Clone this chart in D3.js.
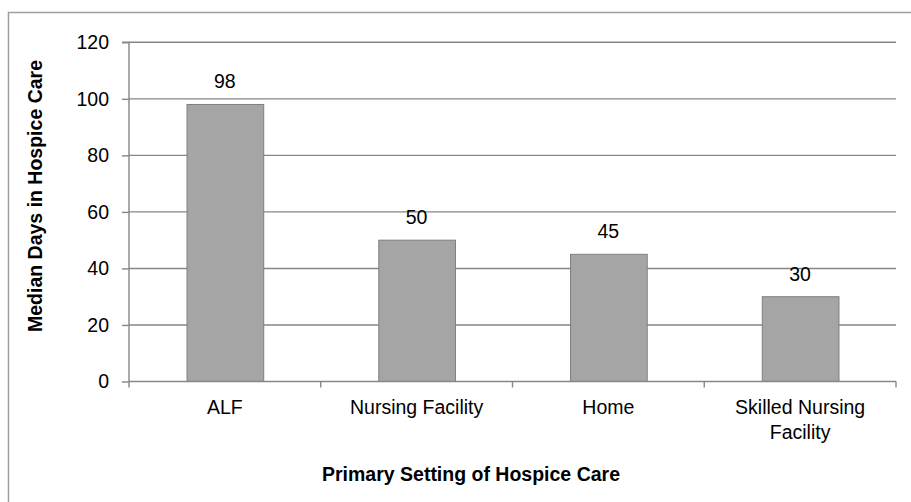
<!DOCTYPE html>
<html>
<head>
<meta charset="utf-8">
<script src="https://cdn.jsdelivr.net/npm/d3@7"></script>
<style>
html,body{margin:0;padding:0;background:#fff;}
svg{display:block;font-family:"Liberation Sans",Arial,sans-serif;}
</style>
</head>
<body>
<svg id="chart" width="911" height="502"></svg>
<script>
const categories = [["ALF"], ["Nursing Facility"], ["Home"], ["Skilled Nursing", "Facility"]];
const values = [98, 50, 45, 30];
const yTicks = [0, 20, 40, 60, 80, 100, 120];
const xTitle = "Primary Setting of Hospice Care";
const yTitle = "Median Days in Hospice Care";

const svg = d3.select("#chart");
const m = {left: 129, right: 896, top: 42.3, bottom: 381.5};
const gridColor = "#868686";
const fs = 19.5;

svg.append("rect").attr("x", 8.5).attr("y", 12.5).attr("width", 920).attr("height", 520)
  .attr("fill", "none").attr("stroke", "#a0a0a0").attr("stroke-width", 1.5);

const keys = categories.map(c => c.join(" "));
const x = d3.scaleBand().domain(keys).range([m.left, m.right]).paddingInner(0.6).paddingOuter(0.3);
const y = d3.scaleLinear().domain([0, 120]).range([m.bottom, m.top]);

// gridlines
svg.append("g").selectAll("line").data(yTicks.filter(t => t > 0)).join("line")
  .attr("x1", m.left).attr("x2", m.right)
  .attr("y1", d => y(d)).attr("y2", d => y(d))
  .attr("stroke", gridColor).attr("stroke-width", 1.4);

// y axis
const yAxis = svg.append("g").attr("transform", `translate(${m.left},0)`)
  .call(d3.axisLeft(y).tickValues(yTicks).tickSize(7).tickPadding(13));
yAxis.select(".domain").attr("stroke", gridColor).attr("stroke-width", 1.4).attr("d", `M-7,${m.top}H0V${m.bottom}`);
yAxis.selectAll(".tick line").attr("stroke", gridColor).attr("stroke-width", 1.4);
yAxis.selectAll(".tick text").attr("font-size", fs).attr("fill", "#000").attr("font-family", "Liberation Sans, Arial, sans-serif");

// bars
svg.append("g").selectAll("rect").data(values).join("rect")
  .attr("x", (d, i) => x(keys[i]) + 0.5)
  .attr("y", d => y(d))
  .attr("width", x.bandwidth())
  .attr("height", d => y(0) - y(d))
  .attr("fill", "#a5a5a5").attr("stroke", "#7f7f7f").attr("stroke-width", 1);

// x axis
const boundaries = d3.range(keys.length + 1).map(i => m.left + i * x.step());
svg.append("line").attr("x1", m.left).attr("x2", m.right).attr("y1", m.bottom).attr("y2", m.bottom)
  .attr("stroke", gridColor).attr("stroke-width", 1.4);
svg.append("g").selectAll("line").data(boundaries).join("line")
  .attr("x1", d => d).attr("x2", d => d).attr("y1", m.bottom).attr("y2", m.bottom + 6)
  .attr("stroke", gridColor).attr("stroke-width", 1.4);

// category labels
const cl = svg.append("g").selectAll("text").data(categories).join("text")
  .attr("x", (d, i) => x(keys[i]) + x.bandwidth() / 2)
  .attr("y", 414).attr("text-anchor", "middle").attr("font-size", fs).attr("fill", "#000");
cl.each(function(d) {
  const t = d3.select(this);
  d.forEach((line, j) => t.append("tspan").attr("x", t.attr("x")).attr("dy", j === 0 ? 0 : 25).text(line));
});

// value labels
svg.append("g").selectAll("text").data(values).join("text")
  .attr("x", (d, i) => x(keys[i]) + x.bandwidth() / 2)
  .attr("y", d => y(d) - 16)
  .attr("text-anchor", "middle").attr("font-size", fs).attr("fill", "#000")
  .text(d => d);

// titles
svg.append("text").attr("x", 471).attr("y", 481)
  .attr("text-anchor", "middle").attr("font-size", fs).attr("font-weight", "bold").text(xTitle);
svg.append("text").attr("transform", `translate(42,196) rotate(-90)`)
  .attr("text-anchor", "middle").attr("font-size", fs).attr("font-weight", "bold").text(yTitle);
</script>
</body>
</html>
